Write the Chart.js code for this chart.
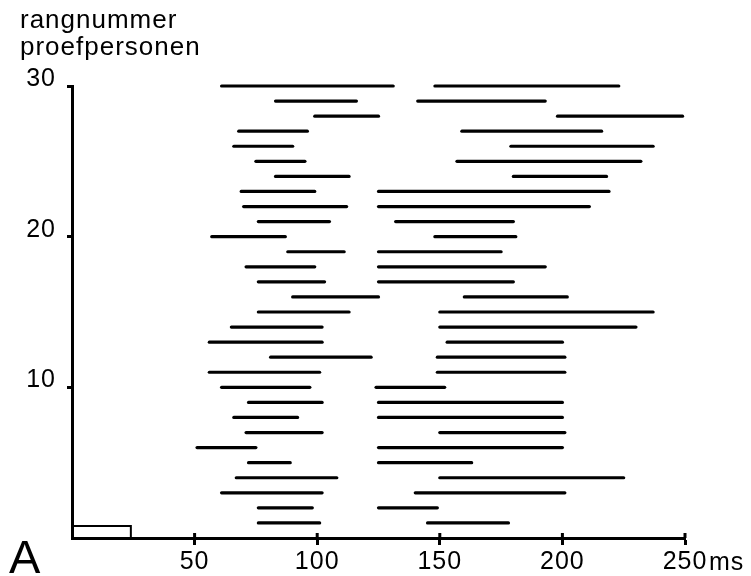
<!DOCTYPE html>
<html>
<head>
<meta charset="utf-8">
<script src="https://cdn.jsdelivr.net/npm/chart.js@4.4.1/dist/chart.umd.min.js"></script>
<style>
  body { margin: 0; background: #fff; }
  canvas { display: block; }
</style>
</head>
<body>
<canvas id="rankChart" width="751" height="576"></canvas>
<script>
// rank number of each subject (y), two response intervals per subject in ms (x)
const ranks = [1, 2, 3, 4, 5, 6, 7, 8, 9, 10, 11, 12, 13, 14, 15,
               16, 17, 18, 19, 20, 21, 22, 23, 24, 25, 26, 27, 28, 29, 30];
const earlyStart = [76, 76, 61, 67, 72, 51, 71, 66, 72, 61, 56, 81, 56, 65, 76,
                    90, 76, 71, 88, 57, 76, 70, 69, 83, 75, 66, 68, 99, 83, 61];
const earlyEnd = [101, 98, 102, 108, 89, 75, 102, 92, 102, 97, 101, 122, 102, 102, 113,
                  125, 103, 99, 111, 87, 105, 112, 99, 113, 95, 90, 96, 125, 116, 131];
const lateStart = [145, 125, 140, 150, 125, 125, 150, 125, 125, 124, 149, 149, 153, 150, 150,
                   160, 125, 125, 125, 148, 132, 125, 125, 180, 157, 179, 159, 198, 141, 148];
const lateEnd = [178, 149, 201, 225, 163, 200, 201, 200, 200, 152, 201, 201, 200, 230, 237,
                 202, 180, 193, 175, 181, 180, 211, 219, 218, 232, 237, 216, 249, 193, 223];

// stimulus bar at the origin
const stimulusStart = 0;
const stimulusEnd = 24;
const stimulusHeight = 0.8;

const xTicks = [50, 100, 150, 200, 250];
const yTicks = [10, 20, 30];

const FONT = "'Liberation Sans', Arial, Helvetica, sans-serif";

function segment(x0, x1, y) {
    return {
        data: [{ x: x0, y: y }, { x: x1, y: y }],
        showLine: true,
        borderColor: "#000",
        borderWidth: 3.2,
        borderCapStyle: "round",
        pointRadius: 0,
        clip: false
    };
}

const datasets = [];
ranks.forEach((r, i) => {
    datasets.push(segment(earlyStart[i], earlyEnd[i], r));
    datasets.push(segment(lateStart[i], lateEnd[i], r));
});
datasets.push({
    data: [
        { x: stimulusStart, y: 0 },
        { x: stimulusStart, y: stimulusHeight },
        { x: stimulusEnd, y: stimulusHeight },
        { x: stimulusEnd, y: 0 }
    ],
    showLine: true,
    borderColor: "#000",
    borderWidth: 2,
    pointRadius: 0,
    fill: false,
    clip: false
});

const spacing = {
    id: "spacing",
    beforeDraw(chart) {
        chart.ctx.letterSpacing = "1px";
    }
};

const extras = {
    id: "extras",
    afterDraw(chart) {
        const ctx = chart.ctx;
        const area = chart.chartArea;
        const x = chart.scales.x;
        ctx.save();
        // tick marks also poke up above the time axis
        ctx.strokeStyle = "#000";
        ctx.lineWidth = 3;
        xTicks.forEach(v => {
            const px = x.getPixelForValue(v);
            ctx.beginPath();
            ctx.moveTo(px, area.bottom);
            ctx.lineTo(px, area.bottom - 5);
            ctx.stroke();
        });
        ctx.fillStyle = "#000";
        ctx.textBaseline = "alphabetic";
        ctx.textAlign = "left";
        ctx.letterSpacing = "1px";
        ctx.font = "26px " + FONT;
        ctx.fillText("rangnummer", 20, 28);
        ctx.fillText("proefpersonen", 20, 55);
        ctx.font = "25px " + FONT;
        ctx.fillText("ms", x.getPixelForValue(250) + 24, 570);
        ctx.letterSpacing = "0px";
        ctx.font = "47px " + FONT;
        ctx.fillText("A", 9, 573);
        ctx.restore();
    }
};

new Chart(document.getElementById("rankChart"), {
    type: "scatter",
    data: { datasets },
    options: {
        responsive: false,
        animation: false,
        events: [],
        layout: { padding: { top: 86, right: 66, left: 0, bottom: 0 } },
        plugins: {
            legend: { display: false },
            tooltip: { enabled: false }
        },
        scales: {
            x: {
                type: "linear",
                min: 0,
                max: 250,
                afterBuildTicks: s => { s.ticks = xTicks.map(v => ({ value: v })); },
                afterFit: s => { s.height = 38; },
                border: { display: true, color: "#000", width: 3 },
                grid: {
                    drawOnChartArea: false,
                    drawTicks: true,
                    tickLength: 7,
                    tickWidth: 3,
                    tickColor: "#000"
                },
                ticks: {
                    color: "#000",
                    font: { family: FONT, size: 25 },
                    padding: 2,
                    maxRotation: 0,
                    autoSkip: false
                }
            },
            y: {
                type: "linear",
                min: 0,
                max: 30,
                afterBuildTicks: s => { s.ticks = yTicks.map(v => ({ value: v })); },
                afterFit: s => { s.width = 72; },
                border: { display: true, color: "#000", width: 3 },
                grid: {
                    drawOnChartArea: false,
                    drawTicks: true,
                    tickLength: 5,
                    tickWidth: 3,
                    tickColor: "#000"
                },
                ticks: {
                    color: "#000",
                    font: { family: FONT, size: 25 },
                    padding: 11,
                    labelOffset: -7,
                    autoSkip: false
                }
            }
        }
    },
    plugins: [spacing, extras]
});
</script>
</body>
</html>
